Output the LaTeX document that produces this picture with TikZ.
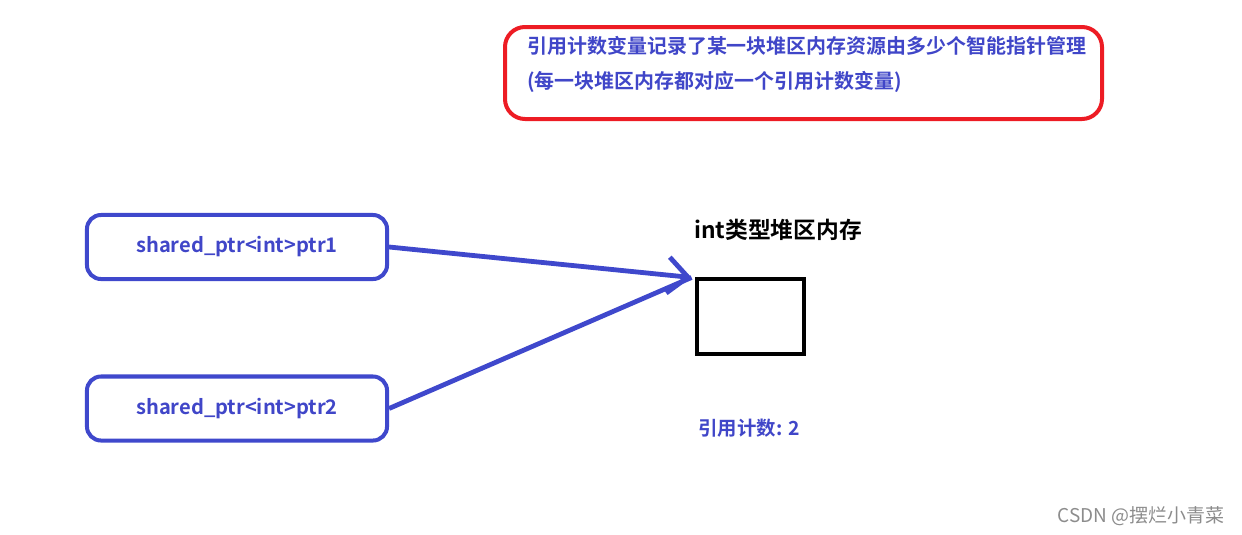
\documentclass[tikz,border=0pt]{standalone}
\usepackage{fontspec}
\setmainfont{Noto Sans CJK SC}[BoldFont={* Bold}]
\usetikzlibrary{arrows.meta}
\definecolor{pblue}{HTML}{3F48CC}
\definecolor{ptext}{HTML}{4046C8}
\definecolor{pred}{HTML}{ED1C24}
\tikzset{
    ptrbox/.style={draw=pblue,line width=0.1cm,rounded corners=0.35cm,minimum width=7.5cm,minimum height=1.6cm,inner sep=0pt,text=ptext,font=\bfseries\fontsize{14.3}{16}\selectfont},
    link/.style={draw=pblue,line width=0.12cm}
}
\begin{document}
\begin{tikzpicture}[x=0.025cm,y=-0.025cm]
        \useasboundingbox (0,0) rectangle (1242,534);

        \draw [pred,line width=0.1cm,rounded corners=0.5cm](505,27) rectangle (1102,119);
        \node [anchor=west,align=left,inner sep=0pt,text=ptext,font=\bfseries\fontsize{14.2}{25}\selectfont](note)at(527,64){引用计数变量记录了某一块堆区内存资源由多少个智能指针管理\\(每一块堆区内存都对应一个引用计数变量)};

        \node [ptrbox](p1)at(237,247){shared\_ptr<int>ptr1};
        \node [ptrbox](p2)at(237,408.5){shared\_ptr<int>ptr2};
        \node [draw,line width=0.1cm,minimum width=2.65cm,minimum height=1.85cm,inner sep=0pt](mem)at(750.5,316.5){};
        \node [above=0.1cm,inner sep=0pt,font=\bfseries\fontsize{16.2}{18}\selectfont](memlabel)at(778,245){int类型堆区内存};
        \node [text=ptext,font=\bfseries\fontsize{13.8}{16}\selectfont](count)at(749,428){引用计数: 2};

        \draw [link,-{Straight Barb[length=0.5cm,width=0.9cm]}] (p1.east) -- ([xshift=-0.1cm]mem.north west);
        \draw [link] (p2.east) -- ([xshift=-0.1cm]mem.north west);

        \node [text=black!45,font=\fontsize{13.5}{15}\selectfont](mark)at(1141,516){CSDN @摆烂小青菜};
    \end{tikzpicture}
\end{document}
